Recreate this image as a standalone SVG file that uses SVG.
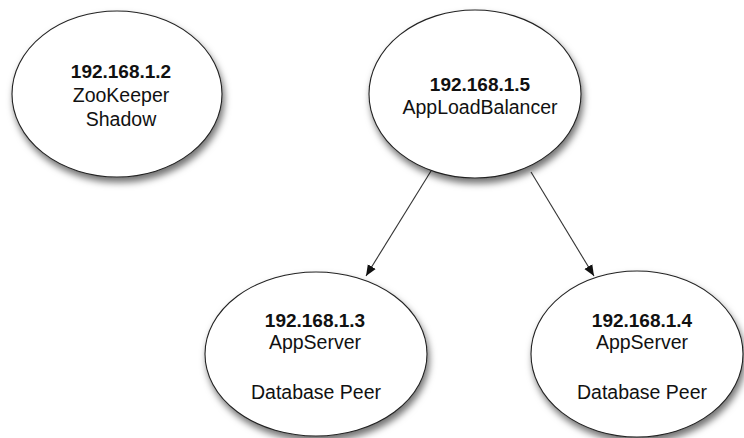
<svg xmlns="http://www.w3.org/2000/svg" width="744" height="438" viewBox="0 0 744 438">
<style>
.node ellipse{fill:#fff;stroke:#222;stroke-width:1.1;filter:url(#sh)}
text{font-family:"Liberation Sans",Arial,sans-serif;font-size:19.5px;fill:#111;text-anchor:middle}
.b{font-weight:bold;font-size:19px}
.edge{stroke:#333;stroke-width:1.1;fill:none;marker-end:url(#arr)}
</style>
<defs>
<filter id="sh" x="-20%" y="-20%" width="140%" height="150%">
<feDropShadow dx="2" dy="5" stdDeviation="3.5" flood-color="#000" flood-opacity="0.55"/>
</filter>
<marker id="arr" viewBox="0 0 10 10" refX="10" refY="5" markerWidth="11" markerHeight="11" markerUnits="userSpaceOnUse" orient="auto">
<path d="M0,0.8 L10,5 L0,9.2 Z" fill="#111"/>
</marker>
</defs>
<rect width="744" height="438" fill="#fff"/>
<g id="connectors">
<line class="edge" x1="431" y1="171" x2="366" y2="276"/>
<line class="edge" x1="531" y1="172" x2="594" y2="276"/>
</g>
<g id="n2" class="node">
<ellipse cx="117" cy="94" rx="105" ry="83"/>
<text x="121" y="78" class="b">192.168.1.2</text>
<text x="121" y="102">ZooKeeper</text>
<text x="121" y="126">Shadow</text>
</g>
<g id="n5" class="node">
<ellipse cx="475" cy="94" rx="106" ry="84"/>
<text x="480" y="91" class="b">192.168.1.5</text>
<text x="480" y="114">AppLoadBalancer</text>
</g>
<g id="n3" class="node">
<ellipse cx="316" cy="354" rx="111" ry="82"/>
<text x="315" y="327" class="b">192.168.1.3</text>
<text x="315" y="349">AppServer</text>
<text x="316" y="399">Database Peer</text>
</g>
<g id="n4" class="node">
<ellipse cx="637" cy="354" rx="106" ry="83"/>
<text x="642" y="327" class="b">192.168.1.4</text>
<text x="642" y="349">AppServer</text>
<text x="642" y="399">Database Peer</text>
</g>
</svg>
